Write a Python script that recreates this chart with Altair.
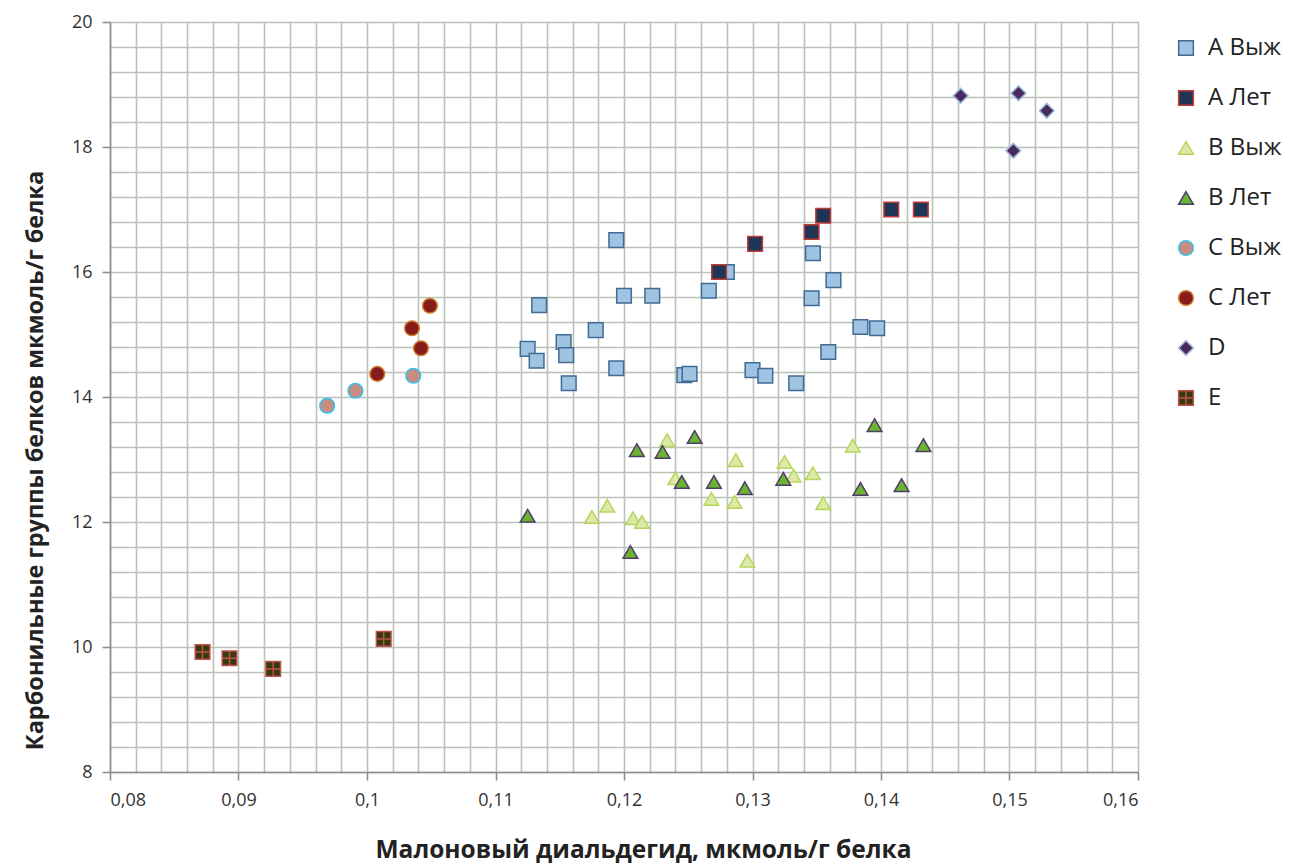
import altair as alt
import pandas as pd
import numpy as np

series_names = ["A Выж", "A Лет", "B Выж", "B Лет", "C Выж", "C Лет", "D", "E"]

a_vyzh_x = [0.1194, 0.1134, 0.1200, 0.1222, 0.1266, 0.1280, 0.1347, 0.1363, 0.1346, 0.1384, 0.1397, 0.1359,
            0.1125, 0.1132, 0.1153, 0.1155, 0.1157, 0.1178, 0.1194, 0.1247, 0.1251, 0.1300, 0.1310, 0.1334]
a_vyzh_y = [16.51, 15.47, 15.62, 15.62, 15.70, 16.00, 16.30, 15.87, 15.58, 15.12, 15.10, 14.72,
            14.77, 14.58, 14.88, 14.67, 14.22, 15.07, 14.46, 14.35, 14.37, 14.43, 14.34, 14.22]

a_let_x = [0.1274, 0.1302, 0.1346, 0.1355, 0.1408, 0.1431]
a_let_y = [16.00, 16.45, 16.64, 16.90, 17.00, 17.00]

b_vyzh_x = [0.12335, 0.1240, 0.1175, 0.1187, 0.1207, 0.1214, 0.1287, 0.1268, 0.1286, 0.1325, 0.1332,
            0.1347, 0.1355, 0.1378, 0.1296]
b_vyzh_y = [13.31, 12.70, 12.08, 12.26, 12.06, 12.00, 12.99, 12.37, 12.32, 12.96, 12.74,
            12.78, 12.30, 13.22, 11.38]

b_let_x = [0.1125, 0.1210, 0.1230, 0.1255, 0.1245, 0.1270, 0.1294, 0.1324, 0.1395, 0.1433, 0.1384,
           0.1416, 0.1205]
b_let_y = [12.10, 13.15, 13.12, 13.36, 12.64, 12.64, 12.54, 12.69, 13.55, 13.23, 12.53,
           12.59, 11.52]

c_vyzh_x = [0.0969, 0.0991, 0.1036]
c_vyzh_y = [13.86, 14.10, 14.34]

c_let_x = [0.1049, 0.1035, 0.1042, 0.1008]
c_let_y = [15.46, 15.10, 14.78, 14.37]

d_x = [0.1462, 0.1507, 0.1529, 0.1503]
d_y = [18.82, 18.86, 18.58, 17.94]

e_x = [0.0872, 0.0893, 0.0927, 0.1013]
e_y = [9.92, 9.82, 9.65, 10.13]

x_ticks = [round(v, 3) for v in np.arange(0.08, 0.16001, 0.002)]
y_ticks = [round(v, 1) for v in np.arange(8, 20.001, 0.4)]

fills = ["#9fc4e2", "#1e3555", "#dce9a8", "#6cb42f", "#c98c80", "#861c1c", "#4a2a5e", "#363b0c"]
strokes = ["#3f6b96", "#c03a3a", "#b6d65a", "#4d3c6c", "#2fc3f0", "#d07a2a", "#9ab8d8", "#c0504d"]
shapes = ["square", "square", "triangle-up", "triangle-up", "circle", "circle", "diamond",
          "M-1,-1H1V1H-1Z M-1,0H1 M0,-1V1"]
sizes = [215, 215, 260, 260, 200, 200, 250, 240]

rows = []
for name, xs, ys in [
    ("A Выж", a_vyzh_x, a_vyzh_y), ("A Лет", a_let_x, a_let_y),
    ("B Выж", b_vyzh_x, b_vyzh_y), ("B Лет", b_let_x, b_let_y),
    ("C Выж", c_vyzh_x, c_vyzh_y), ("C Лет", c_let_x, c_let_y),
    ("D", d_x, d_y), ("E", e_x, e_y)]:
    for xv, yv in zip(xs, ys):
        rows.append({"series": name, "x": xv, "y": yv})
df = pd.DataFrame(rows)

font = "Open Sans"
legend = alt.Legend(title=None, orient="none", legendX=1064, legendY=14, padding=0,
                    labelFontSize=24, labelFont=font, labelColor="#222222",
                    rowPadding=26, labelOffset=10, symbolStrokeWidth=1.5)

x_axis = alt.Axis(
    values=x_ticks, grid=True, gridColor="#bcc1b8", gridWidth=1.6,
    domainColor="#8a9086", domainWidth=1.6,
    tickColor="#8a9086", tickWidth=1.6,
    tickSize=8,
    tickOpacity=alt.ExprRef("abs(datum.value*100 - round(datum.value*100)) < 0.001 ? 1 : 0"),
    labelExpr="abs(datum.value*100 - round(datum.value*100)) < 0.001 ? replace(format(datum.value, '.2~f'), '.', ',') : ''",
    labelFontSize=18, labelFont=font, labelColor="#333333", labelPadding=11,
    title="Малоновый диальдегид, мкмоль/г белка",
    titleFont=font, titleFontSize=24.5, titleFontWeight="bold", titleColor="#222222",
    titleX=533, titleY=78, titleBaseline="middle", titleAnchor="middle", titleAlign="center",
)
y_axis = alt.Axis(
    values=y_ticks, grid=True, gridColor="#bcc1b8", gridWidth=1.6,
    domainColor="#8a9086", domainWidth=1.6,
    tickColor="#8a9086", tickWidth=1.6,
    tickSize=8,
    tickOpacity=alt.ExprRef("abs(datum.value/2 - round(datum.value/2)) < 0.001 ? 1 : 0"),
    labelExpr="abs(datum.value/2 - round(datum.value/2)) < 0.001 ? format(datum.value, 'd') : ''",
    labelFontSize=18, labelFont=font, labelColor="#333333", labelPadding=10,
    title="Карбонильные группы белков мкмоль/г белка",
    titleFont=font, titleFontSize=23.5, titleFontWeight="bold", titleColor="#222222",
    titleX=-75, titleY=438, titleAngle=-90, titleBaseline="middle", titleAlign="center",
)

chart = alt.Chart(df).mark_point(filled=True, opacity=1, strokeWidth=1.5).encode(
    x=alt.X("x:Q", scale=alt.Scale(domain=[0.08, 0.16], nice=False, zero=False), axis=x_axis),
    y=alt.Y("y:Q", scale=alt.Scale(domain=[8, 20], nice=False, zero=False), axis=y_axis),
    fill=alt.Fill("series:N", scale=alt.Scale(domain=series_names, range=fills), legend=legend),
    stroke=alt.Stroke("series:N", scale=alt.Scale(domain=series_names, range=strokes), legend=legend),
    shape=alt.Shape("series:N", scale=alt.Scale(domain=series_names, range=shapes), legend=legend),
    size=alt.Size("series:N", scale=alt.Scale(domain=series_names, range=sizes), legend=legend),
    order=alt.Order("idx:Q"),
).transform_calculate(
    idx="indexof(" + str(series_names).replace("'", '"') + ", datum.series)"
).properties(
    width=1028, height=750,
    autosize=alt.AutoSizeParams(type="none"),
    padding={"left": 110, "top": 22, "right": 152, "bottom": 92},
    background="white",
).configure_view(stroke=None)

chart.save("out.html", embed_options={"renderer": "svg", "actions": False})
